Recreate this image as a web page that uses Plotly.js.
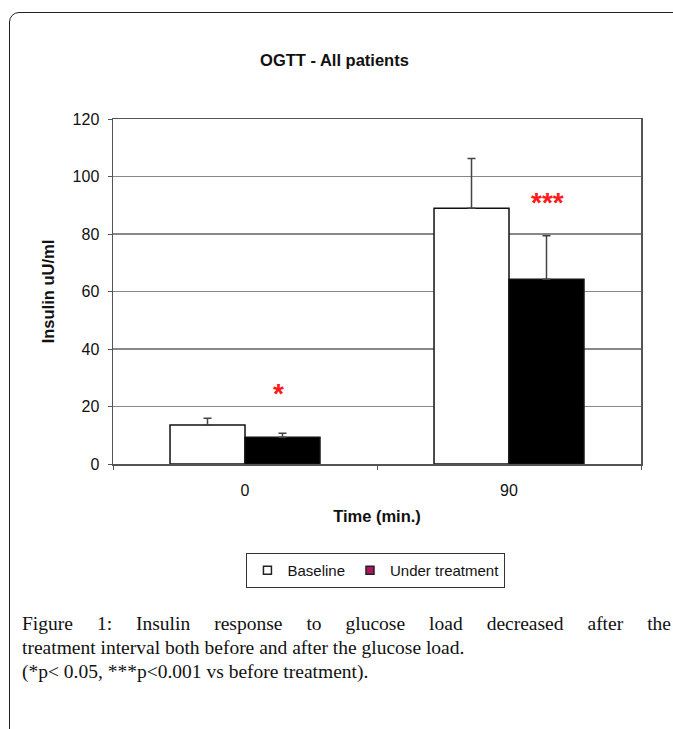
<!DOCTYPE html>
<html>
<head>
<meta charset="utf-8">
<script src="https://cdn.plot.ly/plotly-3.0.1.min.js"></script>
<style>
  html, body { margin:0; padding:0; background:#fff; width:673px; height:729px; overflow:hidden; }
  #chart { position:absolute; left:0; top:0; width:673px; height:729px; }
  #frame { position:absolute; left:9px; top:12px; width:700px; height:760px; border:1.5px solid #222; border-radius:10px 0 0 0; pointer-events:none; }
  #caption { position:absolute; left:22px; top:612px; width:649px; font-family:"Liberation Serif","DejaVu Serif",serif; font-size:19.5px; line-height:24px; color:#111; }
  #caption .j { text-align:justify; text-align-last:justify; }
</style>
</head>
<body>
<div id="chart"></div>
<div id="frame"></div>
<div id="caption"><div class="j">Figure 1: Insulin response to glucose load decreased after the</div><div>treatment interval both before and after the glucose load.</div><div>(*p&lt; 0.05, ***p&lt;0.001 vs before treatment).</div></div>
<script>
const categories = ["0", "90"];
const baseline = [13.6, 89.0];
const baselineErr = [2.3, 17.3];
const treatment = [9.3, 64.3];
const treatmentErr = [1.4, 15.1];
const sigLabels = ["*", "***"];
const sigY = [24.5, 91];
const yTicks = [0, 20, 40, 60, 80, 100, 120];

const font = "Liberation Sans, Arial, sans-serif";

const traces = [
  {
    type: "bar", name: "Baseline", x: categories, y: baseline, showlegend: false,
    marker: { color: "#ffffff", line: { color: "#111", width: 1.5 } },
    error_y: { type: "data", symmetric: false, array: baselineErr, arrayminus: baselineErr.map(() => 0), color: "#444", thickness: 1.5, width: 4 }
  },
  {
    type: "bar", name: "Under treatment", x: categories, y: treatment, showlegend: false,
    marker: { color: "#000000", line: { color: "#111", width: 1.5 } },
    error_y: { type: "data", symmetric: false, array: treatmentErr, arrayminus: treatmentErr.map(() => 0), color: "#444", thickness: 1.5, width: 4 }
  },
  // legend keys
  { type: "scatter", mode: "markers", name: "Baseline", x: [null], y: [null],
    marker: { symbol: "square", size: 8, color: "#ffffff", line: { color: "#222", width: 1.5 } } },
  { type: "scatter", mode: "markers", name: "Under treatment", x: [null], y: [null],
    marker: { symbol: "square", size: 8, color: "#b0145e", line: { color: "#222", width: 1.5 } } }
];

const annotations = categories.map((c, i) => ({
  x: i, xref: "x", y: sigY[i], yref: "y", text: "<b>" + sigLabels[i] + "</b>", showarrow: false,
  xshift: i === 0 ? 33 : 38, font: { family: font, size: 28, color: "#ff1a1a" }
}));

const layout = {
  width: 673, height: 729,
  margin: { l: 113, r: 32, t: 119, b: 265 },
  paper_bgcolor: "rgba(0,0,0,0)", plot_bgcolor: "#fff",
  title: { text: "<b>OGTT - All patients</b>", font: { family: font, size: 16.5, color: "#111" }, x: 0.497, xanchor: "center", y: 0.918, yanchor: "middle" },
  barmode: "group", bargap: 0.432, bargroupgap: 0,
  showlegend: true,
  legend: {
    orientation: "h", x: 0.498, xanchor: "center", y: -0.258, yanchor: "top",
    bordercolor: "#333", borderwidth: 1, bgcolor: "#fff",
    font: { family: font, size: 15, color: "#111" }, itemwidth: 30, itemclick: false
  },
  xaxis: {
    type: "category", range: [-0.5, 1.5], tickson: "boundaries", ticks: "outside", ticklen: 4, tickcolor: "#555",
    showline: true, linecolor: "#555", linewidth: 1.5, mirror: true, ticklabelstandoff: 11,
    tickfont: { family: font, size: 16, color: "#111" },
    title: { text: "<b>Time (min.)</b>", font: { family: font, size: 16.5, color: "#111" }, standoff: 12 }
  },
  yaxis: {
    range: [0, 120], tickvals: yTicks, ticks: "outside", ticklen: 4, tickcolor: "#555",
    showline: true, linecolor: "#555", linewidth: 1.5, mirror: true, ticklabelstandoff: 5,
    showgrid: true, gridcolor: "#888", gridwidth: 1.2, zeroline: false,
    tickfont: { family: font, size: 16, color: "#111" },
    title: { text: "<b>Insulin uU/ml</b>", font: { family: font, size: 16.5, color: "#111" }, standoff: 14 }
  },
  annotations: annotations
};

Plotly.newPlot("chart", traces, layout, { displayModeBar: false, staticPlot: true });
</script>
</body>
</html>
